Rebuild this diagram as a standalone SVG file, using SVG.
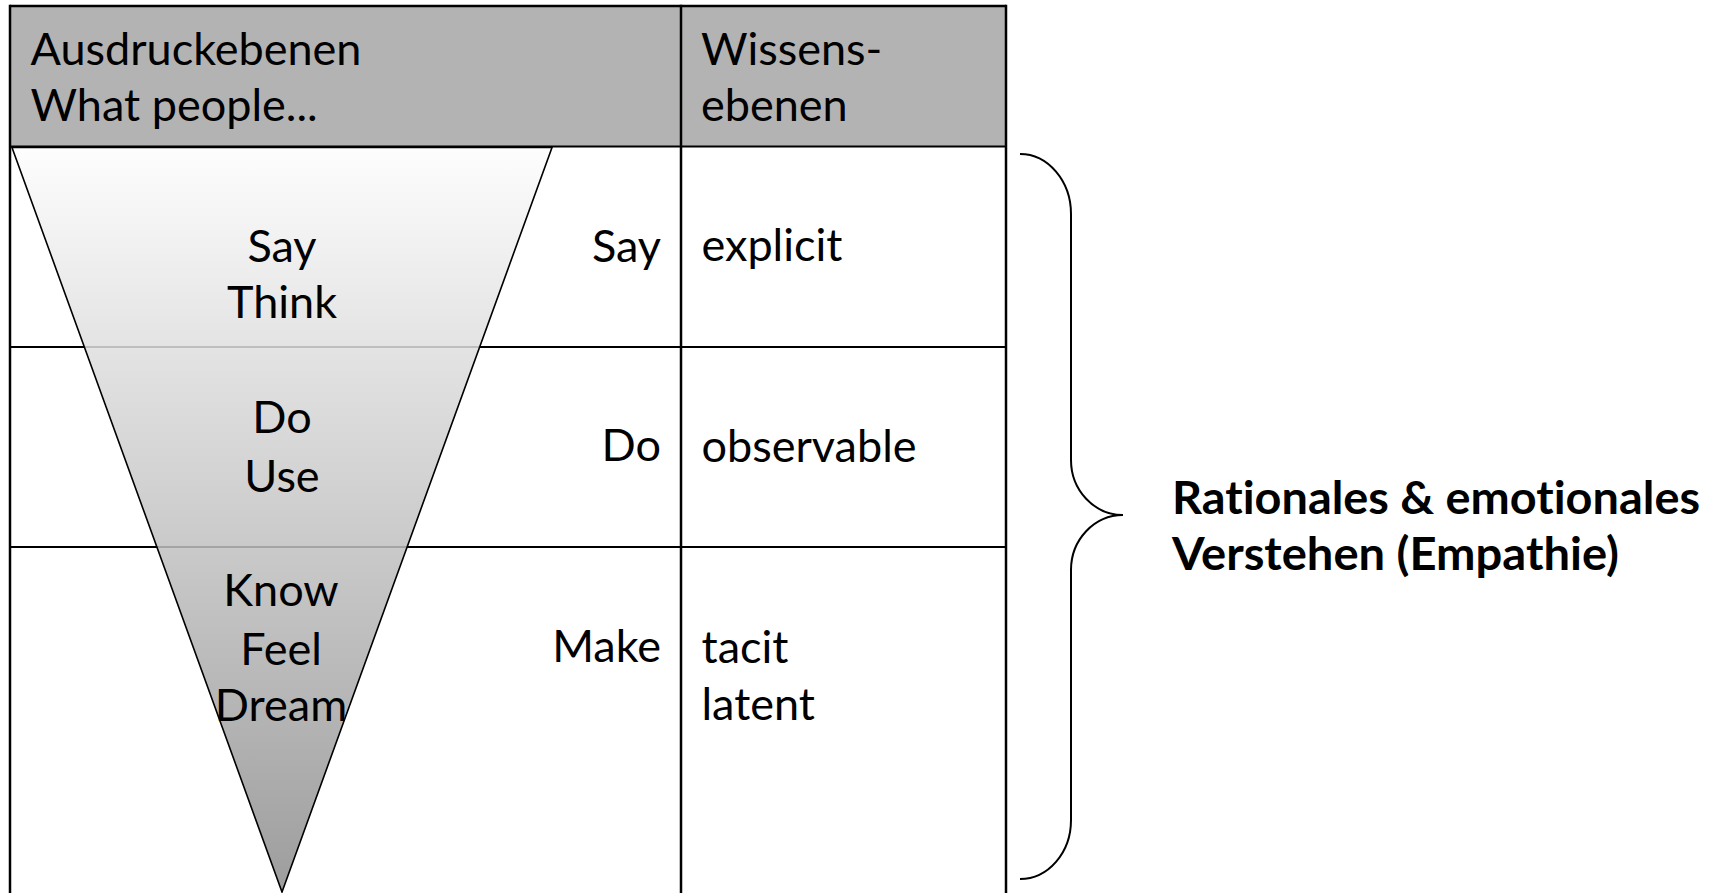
<svg xmlns="http://www.w3.org/2000/svg" width="1714" height="893" viewBox="0 0 1714 893">
<defs>
  <linearGradient id="funnelGrad" x1="0" y1="147" x2="0" y2="892" gradientUnits="userSpaceOnUse">
    <stop offset="0" stop-color="#fdfdfd"/>
    <stop offset="1" stop-color="#8c8c8c"/>
  </linearGradient>
</defs>
<style>
  .t { font-family: Lato, "Open Sans", sans-serif; font-size: 45px; fill: #000; font-variant-ligatures: none; font-feature-settings: "liga" 0, "clig" 0; }
  .c { text-anchor: middle; }
  .r { text-anchor: end; }
  .b { font-weight: bold; }
  .line { stroke: #000; stroke-width: 2.5; fill: none; }
  .hline { stroke: #000; stroke-width: 2; fill: none; }
</style>
<rect width="1714" height="893" fill="#fff"/>
<g id="header">
  <rect x="10" y="6" width="996" height="140.5" fill="#b3b3b3"/>
  <text class="t" x="30.5" y="64.5">Ausdruckebenen</text>
  <text class="t" x="30.5" y="121">What people...</text>
  <text class="t" x="701" y="64.5">Wissens-</text>
  <text class="t" x="701" y="121">ebenen</text>
</g>
<g id="table">
  <line class="line" x1="10" y1="6" x2="1006" y2="6"/>
  <line class="line" x1="10" y1="4.8" x2="10" y2="895"/>
  <line class="line" x1="1006" y1="4.8" x2="1006" y2="895"/>
  <line class="line" x1="681" y1="4.8" x2="681" y2="895"/>
  <line class="hline" x1="10" y1="146.5" x2="1006" y2="146.5"/>
  <line class="hline" x1="10" y1="347" x2="1006" y2="347"/>
  <line class="hline" x1="10" y1="547" x2="1006" y2="547"/>
</g>
<g id="funnel">
  <polygon points="12,147.5 552,147.5 282,892" fill="url(#funnelGrad)" fill-opacity="0.85" stroke="#000" stroke-width="1.6" stroke-linejoin="miter"/>
  <text class="t c" x="282" y="261.7">Say</text>
  <text class="t c" x="282" y="317.7">Think</text>
  <text class="t c" x="282" y="433">Do</text>
  <text class="t c" x="282" y="491.7">Use</text>
  <text class="t c" x="281" y="606">Know</text>
  <text class="t c" x="281" y="665">Feel</text>
  <text class="t c" x="281" y="720.7">Dream</text>
</g>
<g id="row-say">
  <text class="t r" x="661" y="261.7">Say</text>
  <text class="t" x="701.5" y="261">explicit</text>
</g>
<g id="row-do">
  <text class="t r" x="661" y="461">Do</text>
  <text class="t" x="701.5" y="461.5">observable</text>
</g>
<g id="row-make">
  <text class="t r" x="661" y="662">Make</text>
  <text class="t" x="701.5" y="663">tacit</text>
  <text class="t" x="701.5" y="720">latent</text>
</g>
<g id="connectors">
  <path class="hline" d="M1020,154 C1048,154 1071,181 1071,214 L1071,460 C1071,490 1094,515 1123,515 C1094,515 1071,540 1071,570 L1071,820 C1071,853 1048,879 1020,879"/>
</g>
<g id="label">
  <text class="t b" x="1172" y="514" textLength="528" lengthAdjust="spacingAndGlyphs">Rationales &amp; emotionales</text>
  <text class="t b" x="1172" y="570" textLength="447" lengthAdjust="spacingAndGlyphs">Verstehen (Empathie)</text>
</g>
</svg>
